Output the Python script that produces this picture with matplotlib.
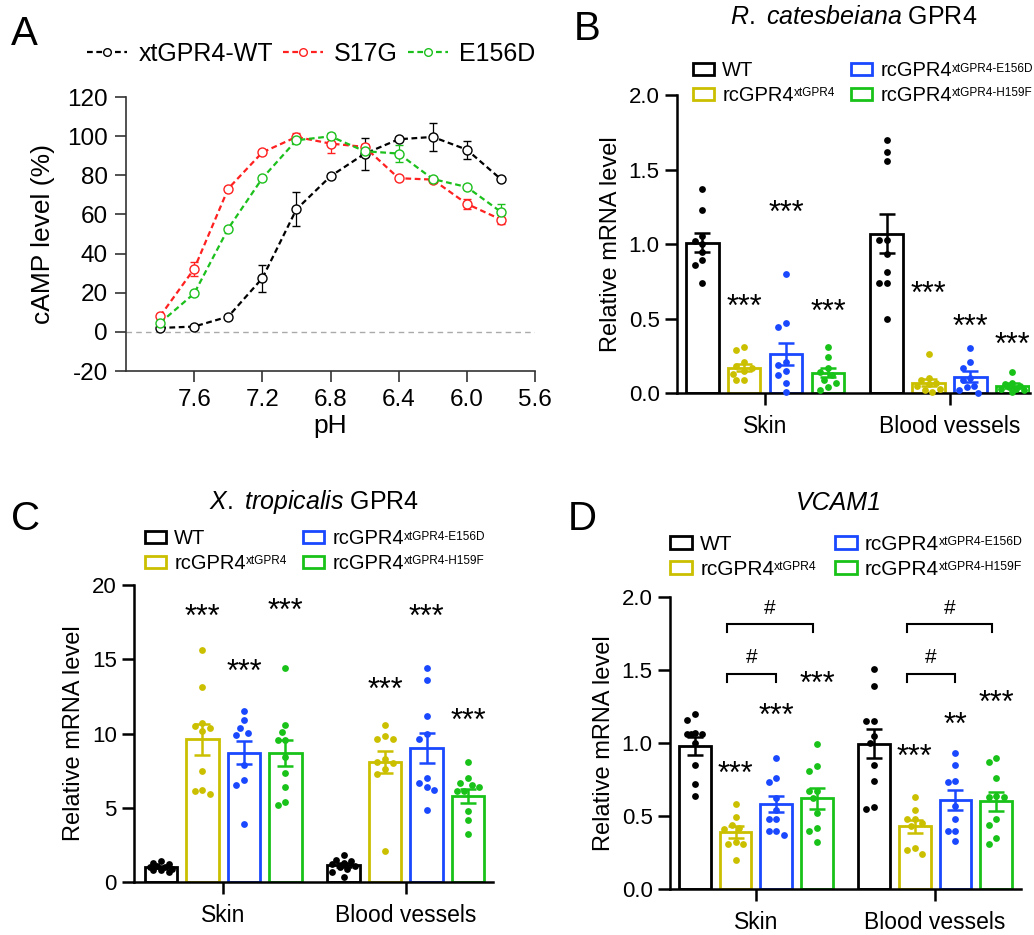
import numpy as np
import matplotlib
matplotlib.use('Agg')
import matplotlib.pyplot as plt
from matplotlib.lines import Line2D

plt.rcParams['font.family'] = ['Liberation Sans', 'DejaVu Sans']
plt.rcParams['mathtext.fontset'] = 'custom'
plt.rcParams['mathtext.rm'] = 'Liberation Sans'
plt.rcParams['mathtext.it'] = 'Liberation Sans:italic'
plt.rcParams['mathtext.default'] = 'regular'
plt.rcParams['axes.unicode_minus'] = False

# ---------------- Panel A data ----------------
ph = [7.8, 7.6, 7.4, 7.2, 7.0, 6.8, 6.6, 6.4, 6.2, 6.0, 5.8]
wt_mean = [2.0, 2.7, 7.8, 27.4, 62.6, 79.5, 91.0, 98.4, 99.6, 93.1, 78.0]
wt_err = [1.0, 0.8, 1.0, 7.0, 8.7, 1.0, 8.2, 1.0, 7.0, 4.6, 1.0]
s17g_mean = [8.0, 32.2, 73.2, 91.7, 99.6, 96.2, 94.5, 78.5, 77.8, 65.4, 57.4]
s17g_err = [1.0, 3.7, 1.0, 1.0, 2.2, 4.6, 1.5, 1.0, 1.0, 2.5, 2.5]
e156d_mean = [4.6, 19.6, 52.8, 78.5, 97.9, 99.9, 92.3, 91.1, 78.1, 74.0, 61.3]
e156d_err = [2.5, 1.0, 1.0, 1.0, 1.5, 1.5, 1.0, 4.2, 1.0, 1.0, 4.0]
a_labels = ['xtGPR4-WT', 'S17G', 'E156D']
a_colors = ['#000000', '#ff2020', '#1cc01c']
ph_ticks = [7.6, 7.2, 6.8, 6.4, 6.0, 5.6]
camp_ticks = [-20, 0, 20, 40, 60, 80, 100, 120]

# ---------------- Bar panels common ----------------
tissues = ['Skin', 'Blood vessels']
genotypes = ['WT', 'rcGPR4', 'rcGPR4', 'rcGPR4']
genotype_sups = ['', 'xtGPR4', 'xtGPR4-E156D', 'xtGPR4-H159F']
bar_colors = ['#000000', '#cbc000', '#1a48ff', '#18c218']

# ---------------- Panel B data ----------------
b_skin_pts = [[1.37, 1.23, 1.055, 1.02, 1.0, 0.945, 0.89, 0.86, 0.74],
              [0.31, 0.29, 0.21, 0.18, 0.17, 0.15, 0.13, 0.09, 0.085],
              [0.80, 0.47, 0.44, 0.21, 0.19, 0.15, 0.12, 0.07, 0.01],
              [0.31, 0.24, 0.17, 0.14, 0.12, 0.09, 0.07, 0.04, 0.02]]
b_bv_pts = [[1.70, 1.62, 1.56, 1.03, 1.03, 0.93, 0.81, 0.74, 0.74, 0.50],
            [0.26, 0.10, 0.09, 0.07, 0.06, 0.05, 0.03, 0.02, 0.01],
            [0.30, 0.21, 0.17, 0.10, 0.09, 0.05, 0.04, 0.02, 0.0],
            [0.14, 0.07, 0.06, 0.05, 0.04, 0.03, 0.03, 0.02, 0.01]]
b_skin_mean = [1.01, 0.17, 0.26, 0.135]
b_skin_sem = [0.065, 0.025, 0.075, 0.03]
b_bv_mean = [1.07, 0.07, 0.11, 0.05]
b_bv_sem = [0.13, 0.025, 0.035, 0.015]
b_skin_sig = [None, 0.63, 1.26, 0.60]
b_bv_sig = [None, 0.72, 0.50, 0.38]
b_skin_sig_txt = ['', '***', '***', '***']
b_bv_sig_txt = ['', '***', '***', '***']
b_ylim = (0, 2.0)
b_yticks = [0.0, 0.5, 1.0, 1.5, 2.0]

# ---------------- Panel C data ----------------
c_skin_pts = [[1.4, 1.3, 1.2, 1.1, 1.0, 1.0, 0.9, 0.8, 0.8, 0.7],
              [15.6, 13.1, 10.7, 10.5, 10.4, 10.2, 7.45, 6.2, 6.1, 5.9],
              [11.5, 10.9, 10.4, 10.05, 9.9, 7.85, 6.85, 6.5, 3.9],
              [14.4, 10.6, 10.1, 9.55, 9.55, 8.4, 7.35, 6.4, 5.4, 5.2]]
c_bv_pts = [[1.8, 1.5, 1.4, 1.3, 1.2, 1.1, 1.0, 0.9, 0.7, 0.35],
            [10.6, 9.8, 9.6, 9.6, 8.3, 8.1, 8.0, 7.6, 7.3, 2.1],
            [14.4, 13.6, 11.2, 9.95, 9.6, 7.0, 6.7, 6.4, 6.2, 4.85],
            [8.1, 7.0, 6.7, 6.5, 6.4, 6.15, 6.15, 4.75, 4.2, 3.2]]
c_skin_mean = [1.02, 9.6, 8.7, 8.7]
c_skin_sem = [0.07, 1.03, 0.78, 0.87]
c_bv_mean = [1.12, 8.1, 9.0, 5.8]
c_bv_sem = [0.13, 0.75, 1.02, 0.46]
c_skin_sig = [None, 18.4, 14.7, 18.8]
c_bv_sig = [None, 13.5, 18.4, 11.4]
c_skin_sig_txt = ['', '***', '***', '***']
c_bv_sig_txt = ['', '***', '***', '***']
c_ylim = (0, 20)
c_yticks = [0, 5, 10, 15, 20]

# ---------------- Panel D data ----------------
d_skin_pts = [[1.20, 1.16, 1.07, 1.06, 1.06, 1.06, 1.0, 0.85, 0.72, 0.64],
              [0.58, 0.49, 0.44, 0.42, 0.41, 0.32, 0.31, 0.31, 0.20],
              [0.90, 0.76, 0.73, 0.62, 0.54, 0.48, 0.48, 0.40, 0.40, 0.37],
              [0.99, 0.84, 0.81, 0.67, 0.67, 0.62, 0.52, 0.42, 0.40, 0.32]]
d_bv_pts = [[1.51, 1.39, 1.15, 1.15, 1.05, 1.0, 0.85, 0.74, 0.56, 0.55],
            [0.63, 0.54, 0.48, 0.48, 0.45, 0.43, 0.28, 0.27, 0.24],
            [0.93, 0.85, 0.74, 0.73, 0.57, 0.48, 0.40, 0.40, 0.33],
            [0.90, 0.87, 0.76, 0.64, 0.63, 0.63, 0.48, 0.44, 0.35, 0.31]]
d_skin_mean = [0.98, 0.39, 0.585, 0.62]
d_skin_sem = [0.06, 0.04, 0.055, 0.07]
d_bv_mean = [0.995, 0.43, 0.61, 0.60]
d_bv_sem = [0.10, 0.045, 0.07, 0.065]
d_skin_sig = [None, 0.845, 1.24, 1.46]
d_bv_sig = [None, 0.957, 1.18, 1.33]
d_skin_sig_txt = ['', '***', '***', '***']
d_bv_sig_txt = ['', '***', '**', '***']
# brackets: (from bar, to bar, height, label)
d_brackets = [(1, 2, 1.476, '#'), (1, 3, 1.818, '#')]
d_ylim = (0, 2.0)
d_yticks = [0.0, 0.5, 1.0, 1.5, 2.0]

# ---------------- Figure ----------------
W, H = 1034, 935
fig = plt.figure(figsize=(W / 100, H / 100), dpi=100)


def fx(px):
    return px / W


def fy(py):
    return 1 - py / H


# ============ Panel A ============
DASH = (0, (2.6, 1.6))
axA = fig.add_axes([fx(126), fy(371), fx(535 - 126), (371 - 97) / H])
for m, e, col in zip([wt_mean, s17g_mean, e156d_mean],
                     [wt_err, s17g_err, e156d_err], a_colors):
    axA.errorbar(ph, m, yerr=e, color=col, ls=DASH, lw=1.6,
                 marker='o', ms=6.5, mfc='white', mec=col, mew=1.0,
                 ecolor=col, elinewidth=0.9, capsize=3, capthick=0.9,
                 zorder=3)
axA.axhline(0, color='#aaaaaa', ls=(0, (4, 3)), lw=1.0, zorder=1)
axA.set_xlim(8.0, 5.6)
axA.set_ylim(-20, 120)
axA.set_xticks(ph_ticks)
axA.set_xticklabels([f'{t:.1f}' for t in ph_ticks])
axA.set_yticks(camp_ticks)
for s in ['top', 'right']:
    axA.spines[s].set_visible(False)
for s in ['left', 'bottom']:
    axA.spines[s].set_color('#333333')
    axA.spines[s].set_linewidth(1.2)
axA.tick_params(length=8, width=1.2, color='#333333', labelsize=17.5, pad=5)
axA.set_xlabel('pH', fontsize=19, labelpad=2)
axA.set_ylabel('cAMP level (%)', fontsize=19, labelpad=9)
a_handles = [Line2D([], [], color=c, ls=DASH, lw=1.6, marker='o', ms=5.5,
                    mfc='white', mec=c, mew=1.0) for c in a_colors]
axA.legend(a_handles, a_labels, loc='center left',
           bbox_to_anchor=(fx(87), fy(54)),
           bbox_transform=fig.transFigure, ncol=3, frameon=False,
           fontsize=18, handlelength=1.6, handletextpad=0.45,
           columnspacing=0.4, borderpad=0, borderaxespad=0)


# ============ Bar panels ============
G = 4.4
offs = [-1.5, -0.5, 0.5, 1.5]
bw = 0.78
SIG_FS = 22


def swarm(ax, x0, vals, dot_px=7.6, max_px=13):
    vals = np.asarray(vals, float)
    ypx = ax.transData.transform(np.column_stack([np.zeros(len(vals)), vals]))[:, 1]
    p0 = ax.transData.transform((0, 0))[0]
    p1 = ax.transData.transform((1, 0))[0]
    ppu = p1 - p0
    order = np.argsort(-vals)
    placed = []
    res = np.zeros(len(vals))
    steps = [0.0]
    for k in range(1, 12):
        steps += [-k * dot_px / 2, k * dot_px / 2]
    steps = [s for s in steps if abs(s) <= max_px]
    for i in order:
        best, bestd, bestv = None, -1, 0.0
        for s in steps:
            dmin = min([np.hypot(s - px, ypx[i] - py) for px, py in placed] or [1e9])
            if dmin >= dot_px:
                best = s
                break
            if dmin > bestd:
                bestd, bestv = dmin, s
        if best is None:
            best = bestv
        placed.append((best, ypx[i]))
        res[i] = best
    return x0 + res / ppu


def bar_panel(ax, pts_list, means_list, sems_list, ylim, yticks,
              sig_list, sigtxt_list, xlim):
    ax.set_xlim(*xlim)
    ax.set_ylim(*ylim)
    for gi in range(2):
        for bi in range(4):
            x = gi * G + offs[bi]
            col = bar_colors[bi]
            ax.bar(x, means_list[gi][bi], width=bw, facecolor='white',
                   edgecolor=col, lw=2.0, zorder=1,
                   label=genotypes[bi] if gi == 0 else None)
            xs = swarm(ax, x, pts_list[gi][bi])
            ax.scatter(xs, pts_list[gi][bi], s=24, color=col, lw=0,
                       zorder=3, clip_on=False)
            ax.errorbar(x, means_list[gi][bi], yerr=sems_list[gi][bi],
                        color=col, lw=1.8, capsize=5.5, capthick=1.8,
                        zorder=4)
            sy = sig_list[gi][bi]
            if sy is not None:
                ax.annotate(sigtxt_list[gi][bi], xy=(x, sy),
                            xytext=(0, -0.56 * SIG_FS), textcoords='offset points',
                            ha='center', va='baseline', fontsize=SIG_FS)
    ax.set_xticks([0, G])
    ax.set_xticklabels(tissues)
    ax.set_yticks(yticks)
    for s in ['top', 'right']:
        ax.spines[s].set_visible(False)
    for s in ['left', 'bottom']:
        ax.spines[s].set_linewidth(1.8)
    ax.tick_params(length=8.5, width=1.8, pad=4)
    ax.tick_params(axis='y', labelsize=16)
    ax.tick_params(axis='x', labelsize=16.5, pad=7)
    ax.set_ylabel('Relative mRNA level', fontsize=17, labelpad=5)


def bar_legend(ax, x_px, yc_px, fs, sup_fs, colsp):
    leg = ax.legend(loc='center left', bbox_to_anchor=(fx(x_px), fy(yc_px)),
                    bbox_transform=fig.transFigure, ncol=2, frameon=False,
                    fontsize=fs, handlelength=1.05, handleheight=0.55,
                    handletextpad=0.4, columnspacing=colsp, labelspacing=0.28,
                    borderpad=0, borderaxespad=0)
    for t, sup in zip(leg.get_texts(), genotype_sups):
        if sup:
            ax.annotate(sup, xy=(1.0, 0.93), xycoords=t, ha='left', va='top',
                        fontsize=sup_fs, zorder=20, annotation_clip=False,
                        clip_on=False)


# ============ Panel B ============
axB = fig.add_axes([fx(677), fy(393), fx(1030 - 677), (393 - 95) / H])
bar_panel(axB, [b_skin_pts, b_bv_pts], [b_skin_mean, b_bv_mean],
          [b_skin_sem, b_bv_sem], b_ylim, b_yticks,
          [b_skin_sig, b_bv_sig], [b_skin_sig_txt, b_bv_sig_txt], (-2.1, 6.32))
axB.set_yticklabels([f'{t:.1f}' for t in b_yticks])
bar_legend(axB, 693, 83, 14.5, 8.5, 2.85)

# ============ Panel C ============
axC = fig.add_axes([fx(134), fy(882), fx(493 - 134), (882 - 585) / H])
bar_panel(axC, [c_skin_pts, c_bv_pts], [c_skin_mean, c_bv_mean],
          [c_skin_sem, c_bv_sem], c_ylim, c_yticks,
          [c_skin_sig, c_bv_sig], [c_skin_sig_txt, c_bv_sig_txt], (-2.15, 6.5))
bar_legend(axC, 145, 551, 14.5, 8.5, 2.85)

# ============ Panel D ============
axD = fig.add_axes([fx(670), fy(889), fx(1021 - 670), (889 - 597) / H])
bar_panel(axD, [d_skin_pts, d_bv_pts], [d_skin_mean, d_bv_mean],
          [d_skin_sem, d_bv_sem], d_ylim, d_yticks,
          [d_skin_sig, d_bv_sig], [d_skin_sig_txt, d_bv_sig_txt], (-2.11, 6.51))
axD.set_yticklabels([f'{t:.1f}' for t in d_yticks])
for gi in range(2):
    for b0, b1, hy, lab in d_brackets:
        xa = gi * G + offs[b0] - 0.2
        xb = gi * G + offs[b1] - (0.0 if b1 == 2 else 0.1)
        drop = 0.055
        axD.plot([xa, xa, xb, xb], [hy - drop, hy, hy, hy - drop],
                 color='black', lw=1.5, zorder=5, solid_joinstyle='miter')
        fs = 15
        axD.annotate(lab, xy=((xa + xb) / 2, hy + 0.12), xytext=(0, -0.36 * fs),
                     textcoords='offset points', ha='center', va='baseline',
                     fontsize=fs)
bar_legend(axD, 670, 557, 15, 8.8, 2.9)

# ============ Titles & panel letters ============
fig.text(fx(854), fy(17), r'$\mathit{R.\ catesbeiana}$ GPR4', ha='center',
         va='center', fontsize=18)
fig.text(fx(314), fy(502), r'$\mathit{X.\ tropicalis}$ GPR4', ha='center',
         va='center', fontsize=18)
fig.text(fx(839), fy(503), 'VCAM1', ha='center', va='center', fontsize=18,
         style='italic')
for lab, xp, yp in [('A', 24, 45), ('B', 587, 40), ('C', 26, 530), ('D', 582, 530)]:
    fig.text(fx(xp), fy(yp), lab, ha='center', va='baseline', fontsize=29)

fig.savefig('out.png', dpi=100)
